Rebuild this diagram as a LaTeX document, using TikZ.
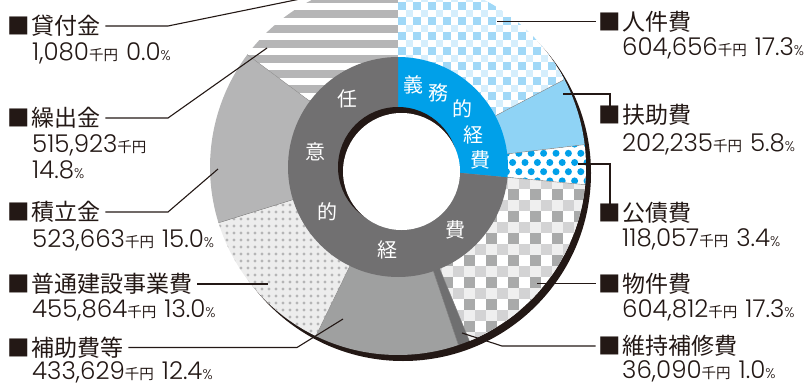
\documentclass[tikz,border=0pt]{standalone}
\usepackage{fontspec}
\newfontfamily\jpf{Noto Sans CJK JP}
\IfFontExistsTF{Poppins Light}{\newfontfamily\numf{Poppins Light}}{\newfontfamily\numf{Poppins}}
\definecolor{ink}{HTML}{231815}
\definecolor{ginner}{HTML}{717071}
\definecolor{bdeep}{HTML}{00A0E9}
\definecolor{blight}{HTML}{8FD3F5}
\definecolor{ckbD}{HTML}{A0D8F7}
\definecolor{ckbL}{HTML}{D5EEFC}
\definecolor{ckgD}{HTML}{A9AAAA}
\definecolor{ckgL}{HTML}{D3D3D4}
\definecolor{ckgW}{HTML}{EFEFEF}
\definecolor{gmaint}{HTML}{6F6F70}
\definecolor{gsub}{HTML}{9FA0A0}
\definecolor{gdotbg}{HTML}{EDEDED}
\definecolor{gmid}{HTML}{B5B5B6}
\definecolor{sepc}{HTML}{8C8C8C}
\newcommand\sectfill[3]{\fill[#3] (0,0) -- (#1:188) arc[start angle=#1,end angle=#2,radius=188] -- cycle;}
\newcommand\sectclip[2]{\clip (0,0) -- (#1:188) arc[start angle=#1,end angle=#2,radius=188] -- cycle;}
\newcommand\senyen{{\jpf\fontsize{14.5}{14.5}\selectfont 千円}}
\newcommand\pcsign{{\numf\fontsize{14}{14}\selectfont\%}}
\begin{document}
\begin{tikzpicture}[x=1pt,y=-1pt,
  sq/.style={inner sep=0pt, text=ink, font=\jpf\fontsize{22.5}{22.5}\selectfont},
  ttl/.style={anchor=west, inner sep=0pt, text=ink, font=\jpf\fontsize{23}{23}\selectfont},
  numl/.style={anchor=base west, inner sep=0pt, text=ink, font=\numf\fontsize{24.5}{24.5}\selectfont},
  lead/.style={draw=ink, line width=1.1pt},
  inl/.style={text=white, inner sep=0pt, font=\jpf\fontsize{20}{20}\selectfont},
  sepl/.style={draw=sepc, line width=0.4pt}]
\useasboundingbox (0,0) rectangle (806,383);
\clip (0,0) rectangle (806,383);
\begin{scope}[shift={(398,167)}]
  % shadow
  \fill[ink] (5,6) circle[radius=188];
  % 人件費
  \begin{scope}
    \sectclip{-90}{-27.72}
    \fill[white] (0,-195) rectangle (195,0);
    \foreach \i in {0,2,...,24}{\foreach \j in {-26,-24,...,-2}{
      \fill[ckbD] (\i*7.5,\j*7.5) rectangle +(7.5,7.5);
      \fill[ckbL] (\i*7.5+7.5,\j*7.5+7.5) rectangle +(7.5,7.5);}}
  \end{scope}
  % 扶助費
  \sectfill{-27.72}{-6.84}{blight}
  % 公債費
  \begin{scope}
    \sectclip{-6.84}{5.4}
    \fill[white] (0,-30) rectangle (195,30);
    \foreach \k in {-4,-2,...,4}{\foreach \m in {0,...,16}{
      \fill[bdeep] (\m*12.4+3,\k*9.2-4.5) circle[radius=3.5];
      \fill[bdeep] (\m*12.4+9.2,\k*9.2+4.7) circle[radius=3.5];}}
  \end{scope}
  % 物件費
  \begin{scope}
    \sectclip{5.4}{67.68}
    \fill[white] (0,0) rectangle (195,195);
    \foreach \i in {0,2,...,18}{\foreach \j in {0,2,...,18}{
      \fill[ckgD] (\i*11,\j*11) rectangle +(11,11);
      \fill[ckgW] (\i*11,\j*11+11) rectangle +(11,11);
      \fill[ckgL] (\i*11+11,\j*11+11) rectangle +(11,11);}}
  \end{scope}
  % 維持補修費
  \sectfill{67.68}{71.28}{gmaint}
  % 補助費等
  \sectfill{71.28}{115.92}{gsub}
  % 普通建設事業費
  \begin{scope}
    \sectclip{115.92}{162.72}
    \fill[gdotbg] (-195,0) rectangle (0,195);
    \foreach \i in {0,...,27}{\foreach \j in {0,...,27}{
      \fill[gmid] (-\i*7-3,\j*7+3) circle[radius=1.6];}}
  \end{scope}
  % 積立金
  \sectfill{162.72}{216.72}{gmid}
  % 繰出金
  \begin{scope}
    \sectclip{216.72}{270}
    \fill[white] (-195,-195) rectangle (0,0);
    \foreach \k in {-2,...,10}{
      \fill[gmid] (-195,-157+\k*15) rectangle (0,-157+\k*15+8.3);}
  \end{scope}
  % separators
  \foreach \a in {-27.72,-6.84,5.4,67.68,71.28,115.92,162.72,216.72}{
    \draw[sepl] (0,0) -- (\a:188);}
  % inner ring
  \fill[bdeep] (0,0) -- (-90:110) arc[start angle=-90,end angle=5.4,radius=110] -- cycle;
  \fill[ginner] (0,0) -- (5.4:110) arc[start angle=5.4,end angle=270,radius=110] -- cycle;
  % hole
  \fill[ink] (0,0) circle[radius=60];
  \fill[white] (3.5,4.5) circle[radius=58.5];
\end{scope}
% inner labels
\node[inl] (g1) at (413,85) {義};
\node[inl] (g2) at (438,93) {務};
\node[inl] (g3) at (462,109) {的};
\node[inl] (g4) at (473,135) {経};
\node[inl] (g5) at (480,160) {費};
\node[inl] (r1) at (347,99) {任};
\node[inl] (r2) at (315,152) {意};
\node[inl] (r3) at (327,212) {的};
\node[inl] (r4) at (387,250) {経};
\node[inl] (r5) at (455,230) {費};
% right column
\node[sq] (s1) at (610,21.5) {■};
\node[ttl] (t1) at (622,21.5) {人件費};
\node[numl] (n1) at (622,55) {604,656\senyen\hspace{8pt}17.3\pcsign};
\node[sq] (s2) at (610,115) {■};
\node[ttl] (t2) at (622,115) {扶助費};
\node[numl] (n2) at (622,151) {202,235\senyen\hspace{8pt}5.8\pcsign};
\node[sq] (s3) at (610,213) {■};
\node[ttl] (t3) at (622,213) {公債費};
\node[numl] (n3) at (622,246) {118,057\senyen\hspace{8pt}3.4\pcsign};
\node[sq] (s4) at (610,283.5) {■};
\node[ttl] (t4) at (622,283.5) {物件費};
\node[numl] (n4) at (622,317) {604,812\senyen\hspace{8pt}17.3\pcsign};
\node[sq] (s5) at (610,346) {■};
\node[ttl] (t5) at (622,346) {維持補修費};
\node[numl] (n5) at (622,378) {36,090\senyen\hspace{8pt}1.0\pcsign};
% left column
\node[sq] (s6) at (19,26) {■};
\node[ttl] (t6) at (31,26) {貸付金};
\node[numl] (n6) at (32,60) {1,080\senyen\hspace{8pt}0.0\pcsign};
\node[sq] (s7) at (19,118) {■};
\node[ttl] (t7) at (31,118) {繰出金};
\node[numl] (n7) at (32,152) {515,923\senyen};
\node[numl] (n7b) at (32,178) {14.8\pcsign};
\node[sq] (s8) at (19,212) {■};
\node[ttl] (t8) at (31,212) {積立金};
\node[numl] (n8) at (32,247) {523,663\senyen\hspace{8pt}15.0\pcsign};
\node[sq] (s9) at (19,284) {■};
\node[ttl] (t9) at (31,284) {普通建設事業費};
\node[numl] (n9) at (32,317) {455,864\senyen\hspace{8pt}13.0\pcsign};
\node[sq] (s10) at (19,347.5) {■};
\node[ttl] (t10) at (31,347.5) {補助費等};
\node[numl] (n10) at (32,379) {433,629\senyen\hspace{8pt}12.4\pcsign};
% leader points
\coordinate (p1) at (497,21.5);
\coordinate (p2) at (563,94);
\coordinate (p3) at (578,164);
\coordinate (p4) at (537,283.5);
\coordinate (k5) at (502,347);
\coordinate (p5) at (462,333);
\coordinate (k6) at (168,27);
\coordinate (p6) at (398,-21);
\coordinate (k7) at (168,118);
\coordinate (p7) at (267,48);
\coordinate (k8) at (168,211);
\coordinate (p8) at (218,169);
\coordinate (p9) at (268,284);
\coordinate (k10) at (297,346);
\coordinate (p10) at (343,319);
% leaders
\draw[lead] ([xshift=-3pt]s1.west) -- (p1);
\draw[lead] (p2) -| (s2.north);
\draw[lead] (p3) -| (s3.north);
\draw[lead] ([xshift=-3pt]s4.west) -- (p4);
\draw[lead] ([xshift=-3pt]s5.west) -- (k5 |- s5.west) -- (p5);
\draw[lead] ([xshift=5pt]t6.east) -- (k6 |- t6.east) -- (p6);
\draw[lead] ([xshift=5pt]t7.east) -- (k7 |- t7.east) -- (p7);
\draw[lead] ([xshift=5pt]t8.east) -- (k8 |- t8.east) -- (p8);
\draw[lead] ([xshift=5pt]t9.east) -- (p9 |- t9.east) -- (p9);
\draw[lead] ([xshift=5pt]t10.east) -- (k10 |- t10.east) -- (p10);
\end{tikzpicture}
\end{document}
